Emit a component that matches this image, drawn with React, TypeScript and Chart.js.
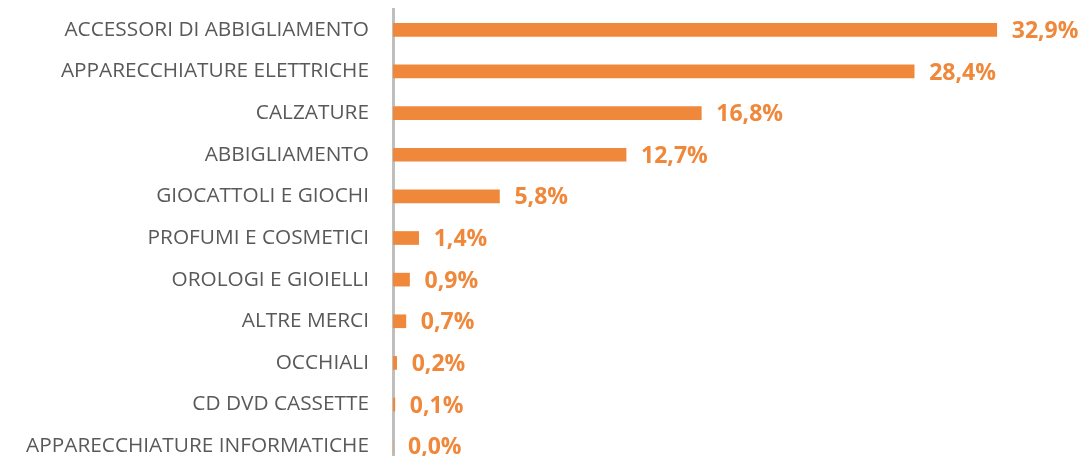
import React, { useEffect, useRef } from "react";
import { Chart, registerables } from "chart.js";

Chart.register(...registerables);

const categories = [
  "ACCESSORI DI ABBIGLIAMENTO",
  "APPARECCHIATURE ELETTRICHE",
  "CALZATURE",
  "ABBIGLIAMENTO",
  "GIOCATTOLI E GIOCHI",
  "PROFUMI E COSMETICI",
  "OROLOGI E GIOIELLI",
  "ALTRE MERCI",
  "OCCHIALI",
  "CD DVD CASSETTE",
  "APPARECCHIATURE INFORMATICHE",
];

const shares = [32.9, 28.4, 16.8, 12.7, 5.8, 1.4, 0.9, 0.7, 0.2, 0.1, 0.0];

const ORANGE = "#F0883B";

const valueLabels = {
  id: "valueLabels",
  afterDatasetsDraw(chart: any) {
    const { ctx } = chart;
    const meta = chart.getDatasetMeta(0);
    ctx.save();
    ctx.font = "bold 23px 'Open Sans'";
    ctx.fillStyle = ORANGE;
    ctx.textAlign = "left";
    ctx.textBaseline = "middle";
    meta.data.forEach((bar: any, i: number) => {
      const v = shares[i];
      const txt = v.toFixed(1).replace(".", ",") + "%";
      ctx.fillText(txt, bar.x + 15, bar.y + 1.5);
    });
    ctx.restore();
  },
};

export default function App() {
  const ref = useRef<HTMLCanvasElement>(null);
  useEffect(() => {
    if (!ref.current) return;
    const chart = new Chart(ref.current, {
      type: "bar",
      data: {
        labels: categories,
        datasets: [
          {
            data: shares,
            backgroundColor: ORANGE,
            borderWidth: 0,
            barThickness: 13,
          },
        ],
      },
      options: {
        indexAxis: "y",
        animation: false,
        responsive: false,
        maintainAspectRatio: false,
        layout: { padding: { top: 9, bottom: 13, left: 0, right: 12 } },
        plugins: {
          legend: { display: false },
          tooltip: { enabled: false },
        },
        scales: {
          x: {
            display: false,
            min: 0,
            max: 37,
          },
          y: {
            grid: { display: false, drawTicks: false },
            border: { display: true, color: "#BFBFBF", width: 3 },
            ticks: {
              color: "#595959",
              font: { family: "'Open Sans'", size: 20.8 },
              padding: 24,
            },
            afterFit(scale: any) {
              scale.width = 393;
              scale.paddingTop = 0;
              scale.paddingBottom = 0;
            },
          },
        },
      },
      plugins: [valueLabels],
    });
    return () => chart.destroy();
  }, []);
  return (
    <div
      style={{
        position: "fixed",
        left: 0,
        top: 0,
        width: 1084,
        height: 456,
        overflow: "hidden",
        background: "#fff",
      }}
    >
      <canvas ref={ref} width={1084} height={480} style={{ display: "block" }} />
    </div>
  );
}
